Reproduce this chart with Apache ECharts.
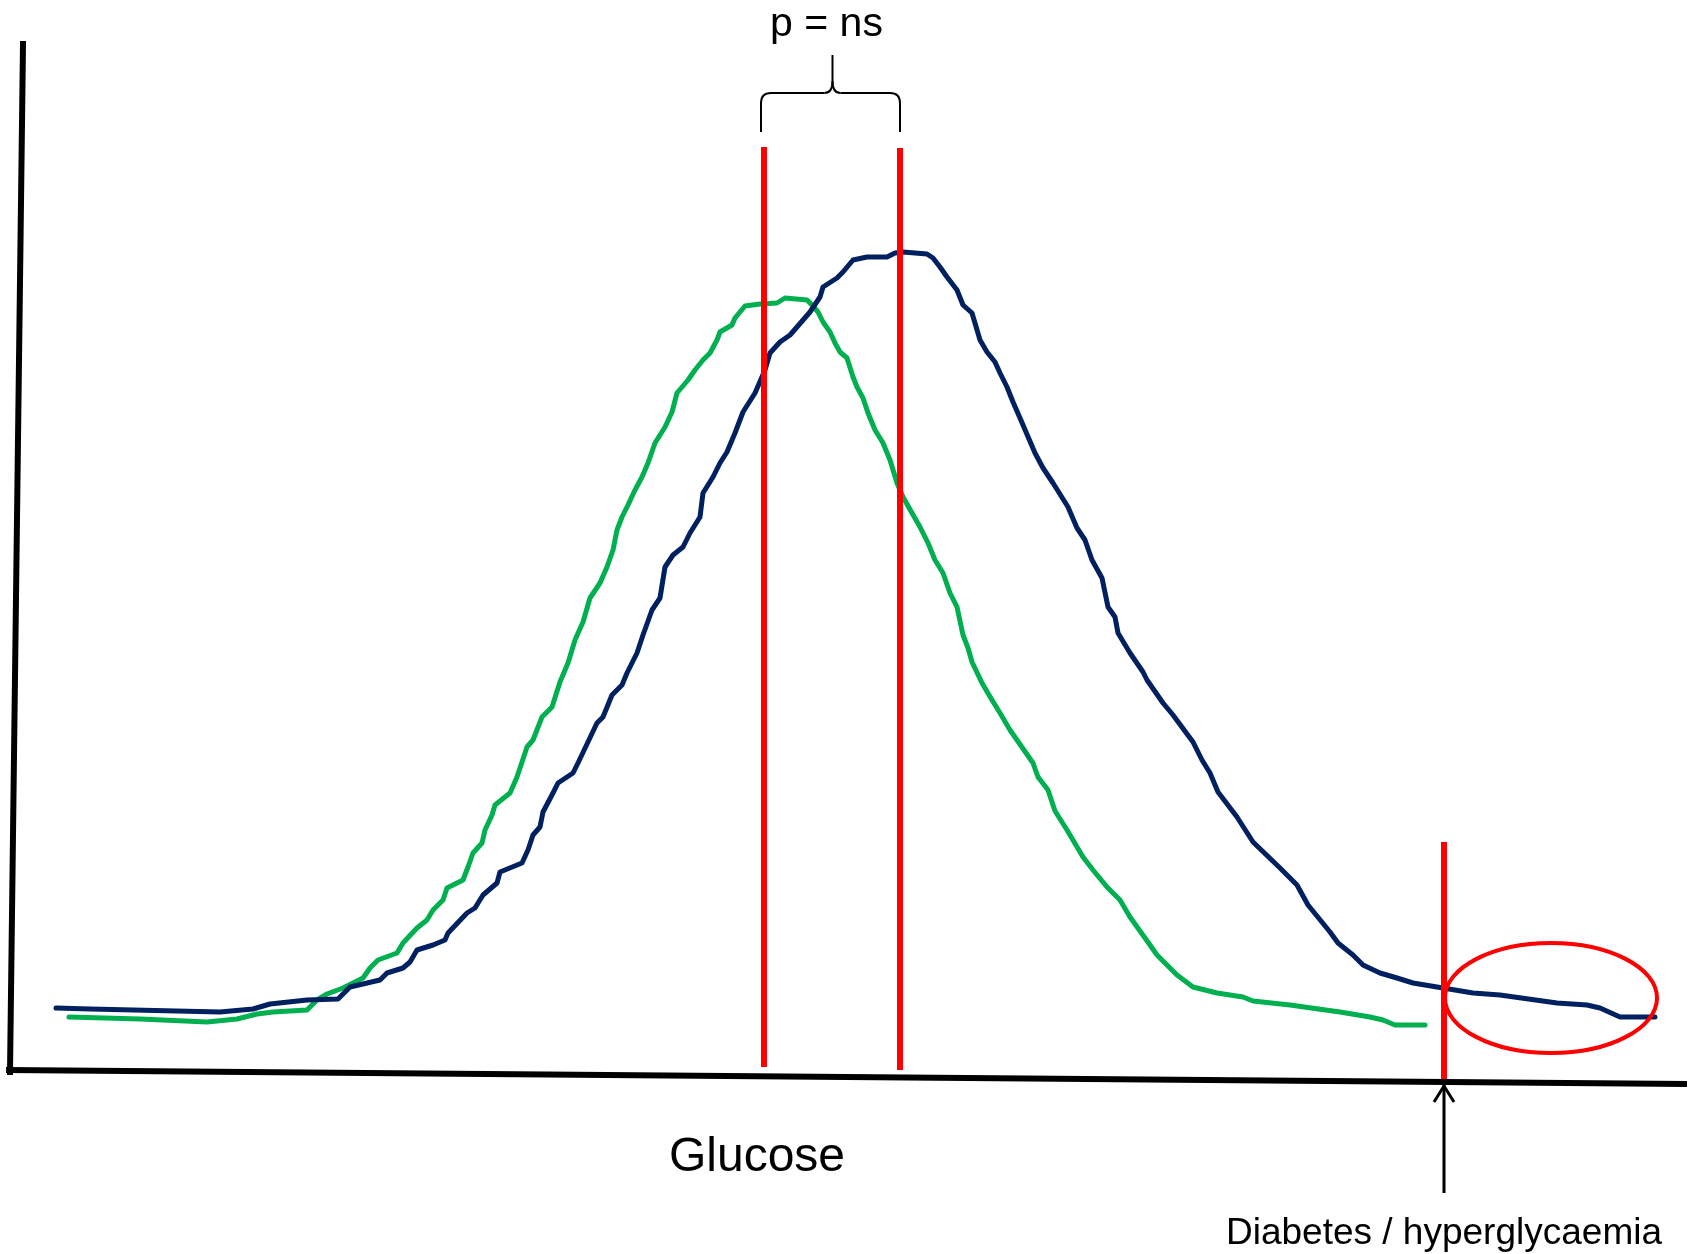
<!DOCTYPE html>
<html><head><meta charset="utf-8">
<script src="https://cdn.jsdelivr.net/npm/echarts@6/dist/echarts.min.js"></script>
<style>html,body{margin:0;padding:0;background:#fff}#c{width:1690px;height:1254px}</style>
</head><body><div id="c"></div>
<script>
// Schematic glucose distributions (arbitrary units)
const glucoseNavy = [4.7,8.1,21.1,24.4,26.1,29.8,32.9,34.1,37.1,37.8,39.4,40.1,40.8,42.4,43.6,43.9,45.8,46.6,47.4,48.8,49.1,51.3,51.9,52.4,53.1,53.4,54.4,54.9,56.4,56.9,58.8,59.4,60.3,61.3,61.8,62.8,63.4,64.3,65.1,65.6,66.4,67.4,68.1,69.1,69.4,70.4,71.1,71.8,72.6,73.4,74.6,75.6,76.1,77.1,78.1,78.8,80.1,81.1,81.4,82.8,83.4,84.4,85.8,87.8,88.6,89.4,91.8,92.4,93.1,93.8,94.8,95.4,96.3,97.1,97.8,98.6,99.1,99.8,100.4,101.1,102.6,103.4,104.4,105.9,106.8,107.6,108.3,109.3,109.9,110.6,110.9,112.1,113.4,113.8,115.4,116.4,118.4,119.3,120.1,120.9,122.8,124.4,127.1,128.8,129.9,132.1,132.9,134.4,135.4,137.1,138.8,140.4,143.4,146.4,149.1,154.8,157.8,159.1,161.1,164.6];
const densityNavy = [6.7,6.6,6.3,6.6,7.1,7.5,7.6,8.8,9.5,10.2,10.7,11.3,12.5,13.0,13.5,14.2,16.2,16.7,18.0,19.2,20.3,21.2,22.5,24.0,24.8,26.3,28.2,29.2,30.2,31.2,35.2,35.8,38.0,39.0,40.2,42.2,44.0,46.5,47.7,50.8,52.0,52.8,54.2,55.8,58.2,59.8,61.2,62.3,64.2,66.3,68.2,70.5,72.2,73.3,74.0,74.8,76.3,77.8,78.8,79.7,80.3,81.5,81.8,81.8,82.2,82.3,82.1,81.7,80.8,79.8,78.5,77.0,76.2,73.5,72.3,71.3,70.2,68.8,67.3,65.7,62.2,60.7,59.2,56.8,54.7,53.5,51.5,49.7,46.8,45.8,44.2,42.2,40.3,39.5,37.2,36.0,33.3,31.5,30.2,28.3,25.8,23.3,20.7,19.0,17.0,14.3,13.2,12.0,11.0,10.2,9.7,9.2,8.7,8.2,8.0,7.2,7.0,6.7,5.8,5.8];
const glucoseGreen = [6.0,13.1,19.8,22.8,24.8,26.4,29.8,30.8,31.8,33.4,35.4,36.1,36.9,38.8,39.4,40.8,41.8,42.4,43.4,43.8,45.4,45.9,46.4,47.3,47.6,48.3,48.6,50.1,50.8,51.8,52.4,53.3,54.3,55.1,55.9,56.6,57.4,58.1,59.1,59.8,60.4,60.8,61.3,61.9,62.6,63.3,63.9,64.6,65.6,66.3,66.8,67.9,68.6,69.4,70.1,70.8,71.1,72.3,72.6,73.6,75.1,76.8,77.6,79.8,80.3,80.9,81.4,82.1,82.6,83.1,83.8,84.4,84.8,85.4,85.9,86.6,87.4,88.1,88.8,89.4,90.3,91.1,91.9,92.6,93.4,94.1,94.8,95.4,95.9,96.3,97.3,98.3,99.1,100.1,102.4,102.9,103.9,104.6,105.8,107.4,108.4,109.8,111.1,112.1,114.1,114.8,115.8,116.8,118.4,120.8,123.4,124.4,128.1,133.1,136.1,137.4,138.6,141.6];
const densityGreen = [5.8,5.6,5.3,5.6,6.1,6.3,6.5,7.5,8.1,8.7,9.7,10.7,11.5,12.2,13.2,14.7,15.5,16.5,17.5,18.7,19.5,20.8,22.2,23.2,24.5,26.0,27.0,28.2,29.8,32.8,33.5,35.8,36.8,39.3,41.2,43.5,45.3,47.7,49.2,50.8,52.5,54.5,55.8,57.0,58.5,59.8,61.2,63.2,64.8,66.3,68.2,69.5,70.5,71.5,72.2,73.5,74.3,75.0,75.7,76.9,77.1,77.2,77.7,77.5,77.0,76.3,75.3,74.3,73.2,72.3,71.7,69.8,68.8,67.7,66.2,64.5,63.2,61.5,59.2,57.8,56.2,54.8,53.2,51.5,50.2,48.2,46.8,44.0,42.7,41.3,39.2,37.5,36.2,34.5,31.2,29.8,28.5,26.4,24.5,21.8,20.5,18.8,17.5,15.8,13.0,12.0,11.0,10.0,8.8,8.2,7.8,7.4,7.0,6.3,5.8,5.5,5.0,5.0];

// Vertical reference lines: two means and the diabetes threshold
const refLineX = [75.5, 89.1, 143.5];
const refLineTop = [92.8, 92.7, 23.3];
const refLineBottom = [0.8, 0.5, -0.4];

// Hand-drawn axes frame
const axisFrameX = [1.4, 0.1, -0.3, 167.8];
const axisFrameY = [103.1, 0.3, 0.5, -0.9];

// Highlight ellipse (centre and half-sizes, in data units)
const ellipseCentre = [154.2, 7.7];
const ellipseHalf = [10.6, 5.5];

const textP = 'p = ns';
const textX = 'Glucose';
const textDiab = 'Diabetes / hyperglycaemia';

const FONT = '"Liberation Sans", Arial, Helvetica, sans-serif';
const chart = echarts.init(document.getElementById('c'), null, {renderer: 'canvas'});

const zip = (xs, ys) => xs.map((x, i) => [x, ys[i]]);
const series = [
  {type:'line', data:[[axisFrameX[0],axisFrameY[0]],[axisFrameX[1],axisFrameY[1]]], clip:false, showSymbol:false, symbol:'none', lineStyle:{color:'#000', width:6, cap:'square'}, silent:true, z:1},
  {type:'line', data:[[axisFrameX[2],axisFrameY[2]],[axisFrameX[3],axisFrameY[3]]], clip:false, showSymbol:false, symbol:'none', lineStyle:{color:'#000', width:6}, silent:true, z:1},
  {type:'line', name:'green', data:zip(glucoseGreen, densityGreen), clip:false, showSymbol:false, symbol:'none', lineStyle:{color:'#00B050', width:5, join:'round', cap:'round'}, z:3},
  {type:'line', name:'navy', data:zip(glucoseNavy, densityNavy), clip:false, showSymbol:false, symbol:'none', lineStyle:{color:'#002060', width:5, join:'round', cap:'round'}, z:3}
];
refLineX.forEach((x, i) => {
  series.push({type:'line', data:[[x, refLineTop[i]],[x, refLineBottom[i]]], clip:false, showSymbol:false, symbol:'none', lineStyle:{color:'#FF0000', width:6}, z:4});
});

chart.setOption({
  animation:false,
  backgroundColor:'#fff',
  grid:{left:9, right:1, top:35, bottom:159, containLabel:false},
  xAxis:{type:'value', min:0, max:168, show:false},
  yAxis:{type:'value', min:-2, max:104, show:false},
  series
});

const px = p => chart.convertToPixel({gridIndex:0}, p);
const m1 = px([refLineX[0], refLineTop[0]]);
const m2 = px([refLineX[1], refLineTop[1]]);
const cut = px([refLineX[2], refLineBottom[2]]);
const ec = px(ellipseCentre);
const ee = px([ellipseCentre[0] + ellipseHalf[0], ellipseCentre[1] + ellipseHalf[1]]);
const rx = ee[0] - ec[0], ry = ec[1] - ee[1];

// brace geometry
const legBot = m1[1] - 15, bar = m1[1] - 54, tipY = m1[1] - 92;
const midX = (m1[0] + m2[0]) / 2 + 0.5;
const lx = m1[0] - 3, rxB = m2[0];
const bs = {stroke:'#000', lineWidth:2, fill:null};
const brace = [
  {type:'line', shape:{x1:lx, y1:legBot, x2:lx, y2:bar+10}, style:bs},
  {type:'bezierCurve', shape:{x1:lx, y1:bar+10, cpx1:lx, cpy1:bar, x2:lx+10, y2:bar}, style:bs},
  {type:'line', shape:{x1:lx+10, y1:bar, x2:midX-8, y2:bar}, style:bs},
  {type:'bezierCurve', shape:{x1:midX-8, y1:bar, cpx1:midX, cpy1:bar, x2:midX, y2:bar-12}, style:bs},
  {type:'line', shape:{x1:midX, y1:bar-12, x2:midX, y2:tipY}, style:bs},
  {type:'line', shape:{x1:rxB, y1:legBot, x2:rxB, y2:bar+10}, style:bs},
  {type:'bezierCurve', shape:{x1:rxB, y1:bar+10, cpx1:rxB, cpy1:bar, x2:rxB-10, y2:bar}, style:bs},
  {type:'line', shape:{x1:rxB-10, y1:bar, x2:midX+8, y2:bar}, style:bs},
  {type:'bezierCurve', shape:{x1:midX+8, y1:bar, cpx1:midX, cpy1:bar, x2:midX, y2:bar-12}, style:bs}
];

const arrowTop = cut[1] + 6;
const graphic = brace.concat([
  {type:'ellipse', shape:{cx:ec[0], cy:ec[1], rx:rx, ry:ry}, style:{stroke:'#FF0000', lineWidth:4, fill:null}, z:5},
  {type:'line', shape:{x1:cut[0], y1:arrowTop, x2:cut[0], y2:arrowTop+108}, style:{stroke:'#000', lineWidth:3}},
  {type:'polyline', shape:{points:[[cut[0]-10, arrowTop+17],[cut[0], arrowTop+1],[cut[0]+10, arrowTop+17]]}, style:{stroke:'#000', lineWidth:3, fill:null}},
  {type:'text', x:midX - 6, y:25, style:{text:textP, font:'41px ' + FONT, fill:'#000', align:'center', verticalAlign:'middle'}},
  {type:'text', x:757, y:1158, style:{text:textX, font:'48px ' + FONT, fill:'#000', align:'center', verticalAlign:'middle'}},
  {type:'text', x:cut[0], y:1234, style:{text:textDiab, font:'37px ' + FONT, fill:'#000', align:'center', verticalAlign:'middle'}}
]);
chart.setOption({graphic});
</script>
</body></html>
